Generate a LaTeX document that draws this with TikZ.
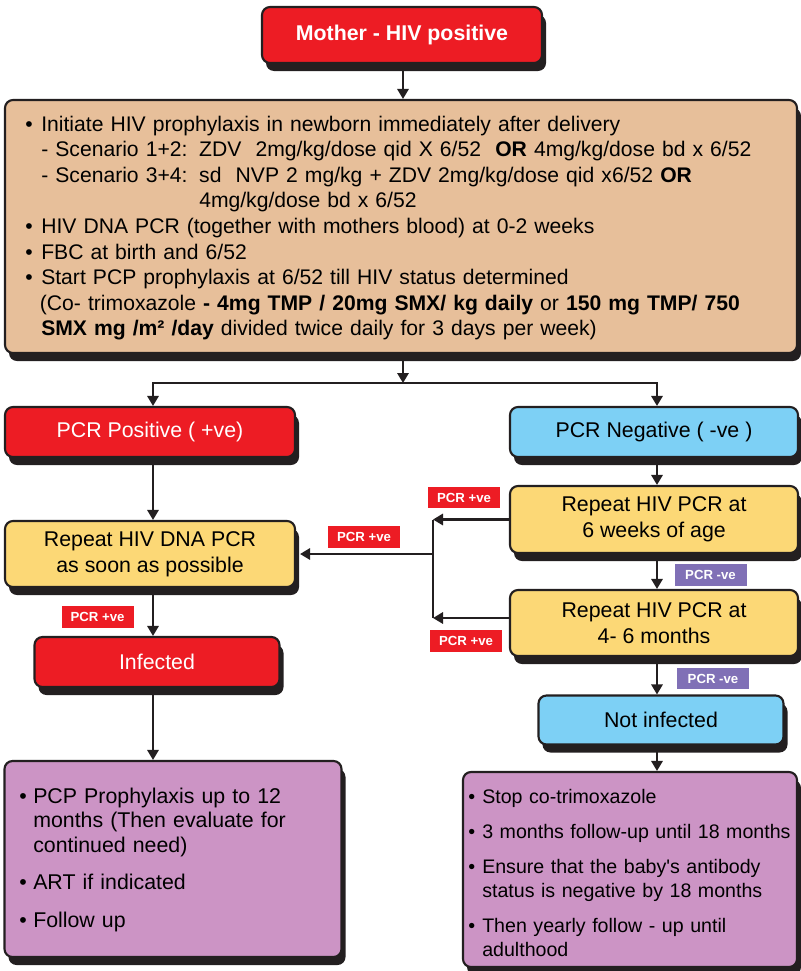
\documentclass[tikz,border=0pt]{standalone}
\usepackage{fontspec}
\setmainfont{Liberation Sans}
\usetikzlibrary{shadows,arrows.meta,calc}
\definecolor{dk}{RGB}{35,31,32}
\definecolor{cred}{RGB}{237,28,36}
\definecolor{ctan}{RGB}{231,191,154}
\definecolor{cyel}{RGB}{252,216,118}
\definecolor{cblue}{RGB}{125,208,245}
\definecolor{cpur}{RGB}{204,148,197}
\definecolor{clbl}{RGB}{128,112,182}
\begin{document}
\begin{tikzpicture}[x=0.75pt,y=-0.75pt,
  box/.style={draw=dk, line width=1.6pt, rounded corners=6pt,
    drop shadow={shadow xshift=3pt, shadow yshift=-6pt, fill=dk, opacity=1},
    align=center, inner sep=0pt, font=\fontsize{16}{19.5}\selectfont},
  sz/.style 2 args={minimum width=#1*0.75pt, minimum height=#2*0.75pt},
  lblr/.style={fill=cred, text=white, inner sep=0pt, minimum width=54pt, minimum height=16pt,
    font=\bfseries\fontsize{9.9}{12}\selectfont},
  lblp/.style={lblr, fill=clbl},
  arr/.style={draw=dk, line width=1.6pt, -{Triangle[length=7.5pt,width=8.5pt]}},
  ln/.style={draw=dk, line width=1.6pt},
  txt/.style={anchor=base west, inner sep=0pt, align=left}
]
\useasboundingbox (0,0) rectangle (800,971);

% boxes
\node[box, fill=cred, text=white, font=\bfseries\fontsize{16}{19.5}\selectfont, sz={280}{56}] (mother) at (402,35) {\raisebox{-2pt}{Mother - HIV positive}};
\node[box, fill=ctan, sz={792}{253}] (tan) at (401,226.5) {};
\node[txt, text width=577pt, font=\fontsize{15.85}{19.2}\selectfont] (tantext) at (25,131) {%
\makebox[12pt][l]{\textbullet}Initiate HIV prophylaxis in newborn immediately after delivery\\
\hspace*{12pt}\makebox[118.5pt][l]{- Scenario 1+2:}ZDV\ \ 2mg/kg/dose qid X 6/52\ \ \textbf{OR} 4mg/kg/dose bd x 6/52\\
\hspace*{12pt}\makebox[118.5pt][l]{- Scenario 3+4:}sd\ \ NVP 2 mg/kg + ZDV 2mg/kg/dose qid x6/52 \textbf{OR}\\
\hspace*{130.5pt}4mg/kg/dose bd x 6/52\\
\makebox[12pt][l]{\textbullet}HIV DNA PCR (together with mothers blood) at 0-2 weeks\\
\makebox[12pt][l]{\textbullet}FBC at birth and 6/52\\
\makebox[12pt][l]{\textbullet}Start PCP prophylaxis at 6/52 till HIV status determined\\
\hspace*{11pt}(Co- trimoxazole \textbf{- 4mg TMP / 20mg SMX/ kg daily} or \textbf{150 mg TMP/ 750}\\
\hspace*{12pt}\textbf{SMX mg /m² /day} divided twice daily for 3 days per week)};

\node[box, fill=cred, text=white, sz={290}{50}] (pos) at (150,432) {PCR Positive ( +ve)};
\node[box, fill=cblue, sz={288}{50}] (neg) at (654,432) {PCR Negative ( -ve )};
\node[box, fill=cyel, sz={290}{66}] (dna) at (150,554) {Repeat HIV DNA PCR\\as soon as possible};
\node[box, fill=cyel, sz={288}{67}] (wk6) at (654,519.5) {Repeat HIV PCR at\\6 weeks of age};
\node[box, fill=cyel, sz={288}{66}] (m46) at (654,623) {Repeat HIV PCR at\\4- 6 months};
\node[box, fill=cred, text=white, sz={245}{50}] (inf) at (157,662) {Infected};
\node[box, fill=cblue, sz={245}{49}] (notinf) at (661,720) {Not infected};
\node[box, fill=cpur, sz={337}{196}] (lp) at (173,859) {};
\node[box, fill=cpur, sz={334}{195}] (rp) at (630,869.5) {};

\node[txt, text width=240pt, font=\fontsize{16}{18.4}\selectfont] (lptext) at (19,803) {%
\makebox[10.5pt][l]{\textbullet}PCP Prophylaxis up to 12\\
\hspace*{10.5pt}months (Then evaluate for\\
\hspace*{10.5pt}continued need)\\[9.75pt]
\makebox[10.5pt][l]{\textbullet}ART if indicated\\[9.75pt]
\makebox[10.5pt][l]{\textbullet}Follow up};

\node[txt, text width=250pt, font=\fontsize{14.7}{18}\selectfont] (rptext) at (468,803) {%
\makebox[10.5pt][l]{\textbullet}Stop co-trimoxazole\\[8.25pt]
\makebox[10.5pt][l]{\textbullet}3 months follow-up until 18 months\\[8.25pt]
\makebox[10.5pt][l]{\textbullet}Ensure that the baby\textquotesingle s antibody\\
\hspace*{10.5pt}status is negative by 18 months\\[8.25pt]
\makebox[10.5pt][l]{\textbullet}Then yearly follow - up until\\
\hspace*{10.5pt}adulthood};

% labels
\node[lblr] (l1) at (464,497.5) {PCR +ve};
\node[lblr] (l2) at (364,537) {PCR +ve};
\node[lblr] (l3) at (97.5,617) {PCR +ve};
\node[lblr] (l4) at (466,641) {PCR +ve};
\node[lblp] (l5) at (710.5,575) {PCR -ve};
\node[lblp] (l6) at (713,678.5) {PCR -ve};

% connectors
\coordinate (sp) at (403,383);
\coordinate (cl) at (153,0);
\coordinate (cr) at (657,0);
\coordinate (jx) at (433,0);
\coordinate (fb2) at (433,618);

\draw[arr] (mother.south -| sp) -- (tan.north -| sp);
\draw[arr] (tan.south -| sp) -- (sp);
\draw[arr] (sp) -| (pos.north -| cl);
\draw[arr] (sp) -| (neg.north -| cr);

\draw[arr] (pos.south -| cl) -- (dna.north -| cl);
\draw[arr] (dna.south -| cl) -- (inf.north -| cl);
\draw[arr] (inf.south -| cl) -- (lp.north -| cl);

\draw[arr] (neg.south -| cr) -- (wk6.north -| cr);
\draw[arr] (wk6.south -| cr) -- (m46.north -| cr);
\draw[arr] (m46.south -| cr) -- (notinf.north -| cr);
\draw[arr] (notinf.south -| cr) -- (rp.north -| cr);

\draw[arr] (wk6.west) -- (wk6.west -| jx);
\draw[arr] (m46.west |- fb2) -- (fb2);
\draw[ln] (wk6.west -| jx) -- (fb2);
\draw[arr] (jx |- dna.east) -- ([xshift=3pt]dna.east);
\end{tikzpicture}
\end{document}
